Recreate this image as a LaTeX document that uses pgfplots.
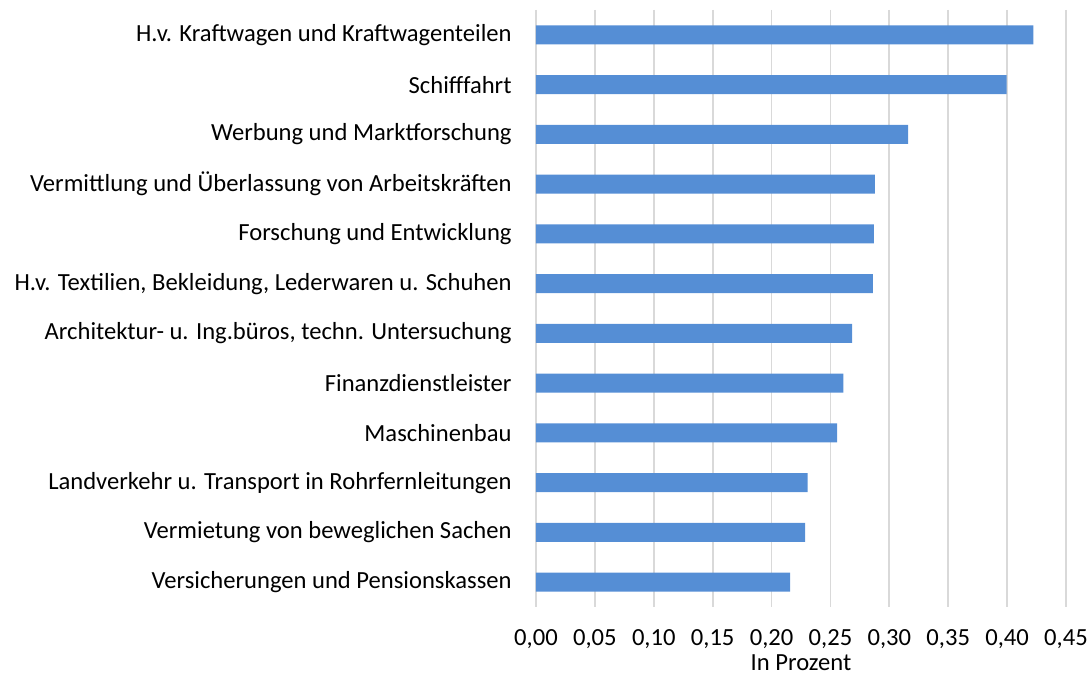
\documentclass[border=0pt]{standalone}
\usepackage{fontspec}
\setmainfont{Carlito}
\usepackage{pgfplots}
\pgfplotsset{compat=1.18}
\definecolor{barblue}{HTML}{558ED5}
\definecolor{gridgray}{HTML}{D9D9D9}
\begin{document}
\fontsize{24.6}{30}\selectfont
\begin{tikzpicture}
\path[use as bounding box] (-536pt,-69pt) rectangle (553pt,607pt);
\begin{axis}[
  at={(0pt,0pt)}, anchor=south west,
  scale only axis,
  width=530pt, height=597pt,
  xbar, bar width=19pt,
  xmin=0, xmax=0.45,
  ymin=-0.5, ymax=11.5,
  y dir=reverse,
  xtick={0,0.05,...,0.45},
  ytick={0,...,11},
  yticklabels={
    H.v. Kraftwagen und Kraftwagenteilen,
    Schifffahrt,
    Werbung und Marktforschung,
    Vermittlung und Überlassung von Arbeitskräften,
    Forschung und Entwicklung,
    {H.v. Textilien, Bekleidung, Lederwaren u. Schuhen},
    {Architektur- u. Ing.büros, techn. Untersuchung},
    Finanzdienstleister,
    Maschinenbau,
    Landverkehr u. Transport in Rohrfernleitungen,
    Vermietung von beweglichen Sachen,
    Versicherungen und Pensionskassen},
  xticklabel style={/pgf/number format/fixed, /pgf/number format/fixed zerofill,
    /pgf/number format/precision=2, /pgf/number format/use comma,
    /pgf/number format/assume math mode=true, yshift=-14pt},
  scaled x ticks=false,
  xmajorgrids, grid style={gridgray, line width=1.8pt},
  axis line style={draw=none},
  major tick length=0pt,
  yticklabel style={xshift=-16pt},
  xlabel={In Prozent},
  xlabel style={yshift=10pt},
  tick label style={font=\fontsize{24.6}{30}\selectfont},
  label style={font=\fontsize{24.6}{30}\selectfont},
]
\addplot[fill=barblue, draw=none] coordinates {
  (0.4222,0) (0.3995,1) (0.3160,2) (0.2878,3) (0.2869,4) (0.2860,5)
  (0.2685,6) (0.2610,7) (0.2557,8) (0.2306,9) (0.2285,10) (0.2158,11)
};
\end{axis}
\end{tikzpicture}
\end{document}
